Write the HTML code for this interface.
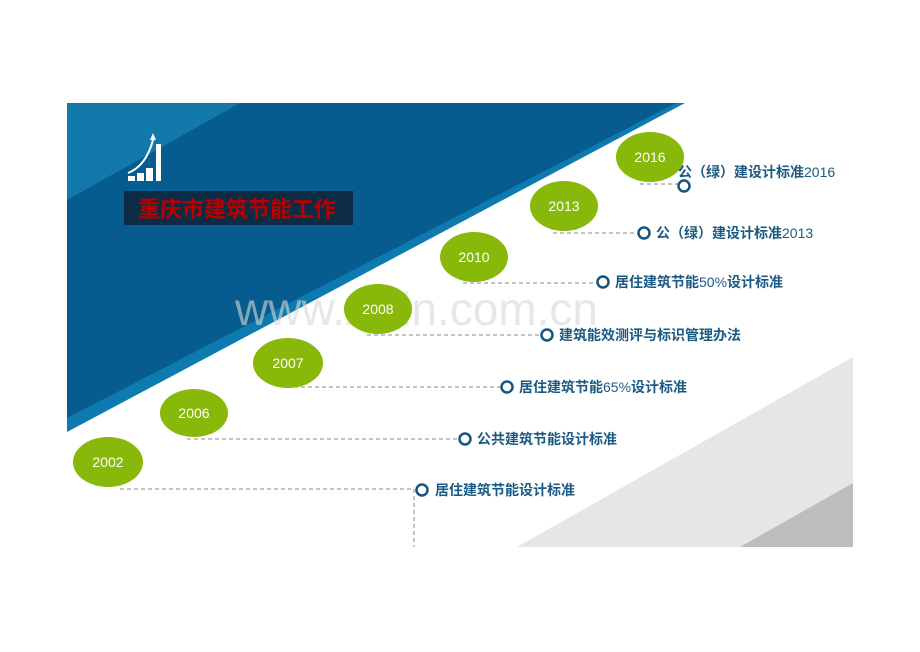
<!DOCTYPE html>
<html><head><meta charset="utf-8"><style>
html,body{margin:0;padding:0;background:#fff;width:920px;height:652px;overflow:hidden}
svg{display:block}
.t{font-family:"Liberation Sans","Noto Sans CJK SC",sans-serif;font-weight:bold;font-size:14px;fill:#1b5a82}
.n{font-weight:normal}
.y{font-family:"Liberation Sans",sans-serif;font-size:14px;fill:#fff}
.d{stroke:#888;stroke-width:1;stroke-dasharray:4,3;fill:none}
.c{fill:#fff;stroke:#15557e;stroke-width:2.5}
</style></head><body>
<svg width="920" height="652" xmlns="http://www.w3.org/2000/svg">
<polygon points="517,547 853,357 853,547" fill="#e6e6e6"/>
<polygon points="740,547 853,483 853,547" fill="#bdbdbd"/>
<polygon points="67,103 685,103 67,432" fill="#0e7bb0"/>
<polygon points="67,103 676,103 67,418" fill="#065c8e"/>
<polygon points="67,103 240,103 67,200" fill="#1379aa"/>
<text x="235" y="325" font-family="Liberation Sans,sans-serif" font-size="46" fill="#d8d8d8" opacity="0.6">www.zixin.com.cn</text>
<g fill="#fff">
<rect x="128" y="176" width="7" height="5"/><rect x="137" y="173" width="7" height="8"/><rect x="146" y="168" width="7" height="13"/><rect x="156" y="144" width="5" height="37"/>
<path d="M128 173 Q146 166 153 140" stroke="#fff" stroke-width="2" fill="none"/>
<polygon points="150,140 156,140 153,133"/>
</g>
<rect x="124" y="191" width="229" height="34" fill="#0c2c45"/>
<text x="138" y="217" font-family="Liberation Sans,'Noto Sans CJK SC',sans-serif" font-weight="bold" font-size="22" fill="#b80000">重庆市建筑节能工作</text>
<path class="d" d="M640 184H680M553 233H638M463 283H597M367 335H541M280 387H501M187 439H459M120 489H414V547"/>
<g fill="#88b90a">
<ellipse cx="108" cy="462" rx="35" ry="25"/><ellipse cx="194" cy="413" rx="34" ry="24"/>
<ellipse cx="288" cy="363" rx="35" ry="25"/><ellipse cx="378" cy="309" rx="34" ry="25"/>
<ellipse cx="474" cy="257" rx="34" ry="25"/><ellipse cx="564" cy="206" rx="34" ry="25"/>
<ellipse cx="650" cy="157" rx="34" ry="25"/>
</g>
<g class="y" text-anchor="middle">
<text x="108" y="467">2002</text><text x="194" y="418">2006</text><text x="288" y="368">2007</text>
<text x="378" y="314">2008</text><text x="474" y="262">2010</text><text x="564" y="211">2013</text><text x="650" y="162">2016</text>
</g>
<g class="c">
<circle cx="684" cy="186" r="5.5"/><circle cx="644" cy="233" r="5.5"/><circle cx="603" cy="282" r="5.5"/>
<circle cx="547" cy="335" r="5.5"/><circle cx="507" cy="387" r="5.5"/><circle cx="465" cy="439" r="5.5"/><circle cx="422" cy="490" r="5.5"/>
</g>
<g class="t">
<text x="678" y="177">公（绿）建设计标准<tspan class="n">2016</tspan></text>
<text x="656" y="238">公（绿）建设计标准<tspan class="n">2013</tspan></text>
<text x="615" y="287">居住建筑节能<tspan class="n">50%</tspan>设计标准</text>
<text x="559" y="340">建筑能效测评与标识管理办法</text>
<text x="519" y="392">居住建筑节能<tspan class="n">65%</tspan>设计标准</text>
<text x="477" y="444">公共建筑节能设计标准</text>
<text x="435" y="495">居住建筑节能设计标准</text>
</g>
</svg>
</body></html>
